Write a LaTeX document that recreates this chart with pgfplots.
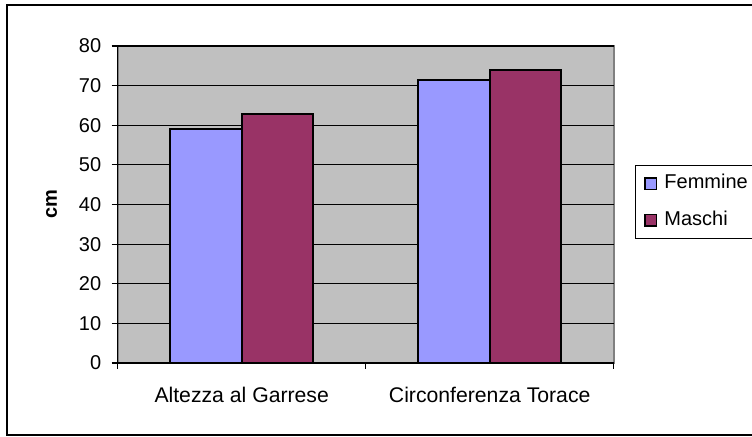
\documentclass[border=0pt]{standalone}
\usepackage{fontspec}
\setmainfont{Liberation Sans}
\usepackage{pgfplots}
\pgfplotsset{compat=1.18}
\definecolor{femmine}{HTML}{9999FF}
\definecolor{maschi}{HTML}{993366}
\definecolor{plotbg}{HTML}{C0C0C0}
\definecolor{plotedge}{HTML}{808080}
\begin{document}
\begin{tikzpicture}
\clip (-58.85pt,-37pt) rectangle (317.15pt,181.5pt);
\draw[line width=1pt] (320pt,178.85pt) -- (-55.2pt,178.85pt) -- (-55.2pt,-36pt) -- (320pt,-36pt);
\begin{axis}[
    at={(0,0)}, anchor=south west,
    scale only axis,
    width=248pt, height=158.5pt,
    ybar=0pt, bar width=35.75pt,
    xmin=-0.5, xmax=1.5,
    ymin=0, ymax=80,
    ytick={0,10,...,80},
    xtick={-0.5,0.5,1.5},
    xticklabels={},
    extra x ticks={0,1},
    extra x tick labels={Altezza al Garrese, Circonferenza Torace},
    extra x tick style={major tick length=0pt,
        tick label style={yshift=-8.7pt, font=\fontsize{10.6}{12}\selectfont}},
    axis x line*=bottom, axis y line*=left,
    axis line style={-, line width=0.8pt, black},
    axis background/.style={fill=plotbg, draw=plotedge, line width=1pt},
    ymajorgrids,
    grid style={black, line width=0.6pt},
    tick align=outside, major tick length=3pt,
    tick style={black, line width=0.6pt},
    /pgf/number format/assume math mode=true,
    tick label style={font=\fontsize{10}{12}\selectfont},
    yticklabel style={xshift=-1.7pt},
    ylabel={cm},
    every axis y label/.style={at={(axis description cs:0,0.5)}, xshift=-33pt,
        rotate=90, anchor=center, font=\fontsize{10}{12}\selectfont\bfseries},
    legend style={at={(1.0435,0.6246)}, anchor=north west, draw=black,
        line width=0.6pt, font=\fontsize{10}{12}\selectfont,
        inner xsep=4.2pt, inner ysep=2.5pt, row sep=5.35pt,
        nodes={text height=7pt, text depth=2pt, inner ysep=2pt}},
    legend cell align=left,
    legend image code/.code={\draw[#1, line width=0.75pt] (0pt,-2.9pt) rectangle (5.8pt,2.9pt);
        \path (7.2pt,0pt);},
]
\addplot[fill=femmine, draw=black, line width=1pt] coordinates {(0,59.0) (1,71.4)};
\addlegendentry{Femmine}
\addplot[fill=maschi, draw=black, line width=1pt] coordinates {(0,62.8) (1,73.9)};
\addlegendentry{Maschi}
\end{axis}
\end{tikzpicture}
\end{document}
